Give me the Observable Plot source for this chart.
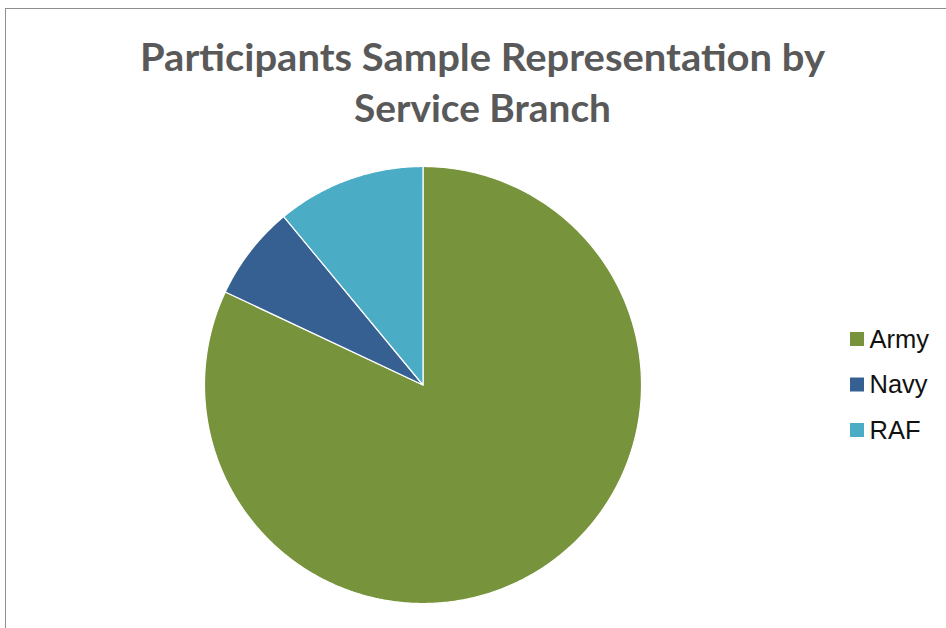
<!DOCTYPE html>
<html><head><meta charset="utf-8">
<script src="https://cdn.jsdelivr.net/npm/d3@7"></script>
<script src="https://cdn.jsdelivr.net/npm/@observablehq/plot@0.6"></script>
<style>
body{margin:0;background:#fff;}
#wrap{position:relative;width:946px;height:628px;overflow:hidden;}
#frame{position:absolute;left:5px;top:8px;width:980px;height:660px;border:1.5px solid #8e8e8e;box-sizing:border-box;pointer-events:none;}
</style>
</head><body>
<div id="wrap"><div id="chart"></div><div id="frame"></div></div>
<script>
const branches = ["Army", "Navy", "RAF"];
const shares = [82, 7, 11];
const colors = ["#77933C", "#376092", "#4BACC6"];
const titleLines = ["Participants Sample Representation by", "Service Branch"];

const W = 946, H = 628;
const cx = 422.5, cy = 384.5, R = 218.5;

const arcs = d3.pie().sort(null).value(d => d)(shares);
const slicePts = [];
arcs.forEach((a, i) => {
  slicePts.push({branch: branches[i], x: cx, y: cy});
  const n = Math.max(2, Math.ceil((a.endAngle - a.startAngle) / (Math.PI / 360)));
  for (let k = 0; k <= n; k++) {
    const t = a.startAngle + (a.endAngle - a.startAngle) * k / n;
    slicePts.push({branch: branches[i], x: cx + R * Math.sin(t), y: cy - R * Math.cos(t)});
  }
});

const legend = branches.map((b, i) => ({branch: b, i}));
const legY = i => 339 + i * 45.5;

const plot = Plot.plot({
  width: W, height: H,
  margin: 0,
  x: {type: "linear", domain: [0, W], range: [0, W], axis: null},
  y: {type: "linear", domain: [0, H], range: [0, H], axis: null},
  color: {domain: branches, range: colors},
  style: {background: "transparent"},
  marks: [
    Plot.line(slicePts, {x: "x", y: "y", z: "branch", fill: "branch", stroke: "white", strokeWidth: 1.2, curve: "linear-closed"}),
    Plot.text(titleLines, {x: () => 482, y: (d, i) => 58 + i * 51, text: d => d, fontSize: 38, fontWeight: "bold", fontFamily: "Lato, 'Open Sans', sans-serif", fill: "#595959", className: "ttl"}),
    Plot.rect(legend, {x1: () => 850, x2: () => 864, y1: d => legY(d.i) - 7, y2: d => legY(d.i) + 7, fill: "branch"}),
    Plot.text(legend, {x: () => 869, y: d => legY(d.i), text: "branch", textAnchor: "start", fontSize: 25.5, fontFamily: "Arial, 'Liberation Sans', sans-serif", fill: "#111"})
  ]
});
document.getElementById("chart").appendChild(plot);
// stretch title lines to the reference's measured widths
const titleWidths = [685, 257];
plot.querySelectorAll("g.ttl text").forEach((t, i) => {
  t.setAttribute("textLength", titleWidths[i]);
  t.setAttribute("lengthAdjust", "spacingAndGlyphs");
});
</script>
</body></html>
